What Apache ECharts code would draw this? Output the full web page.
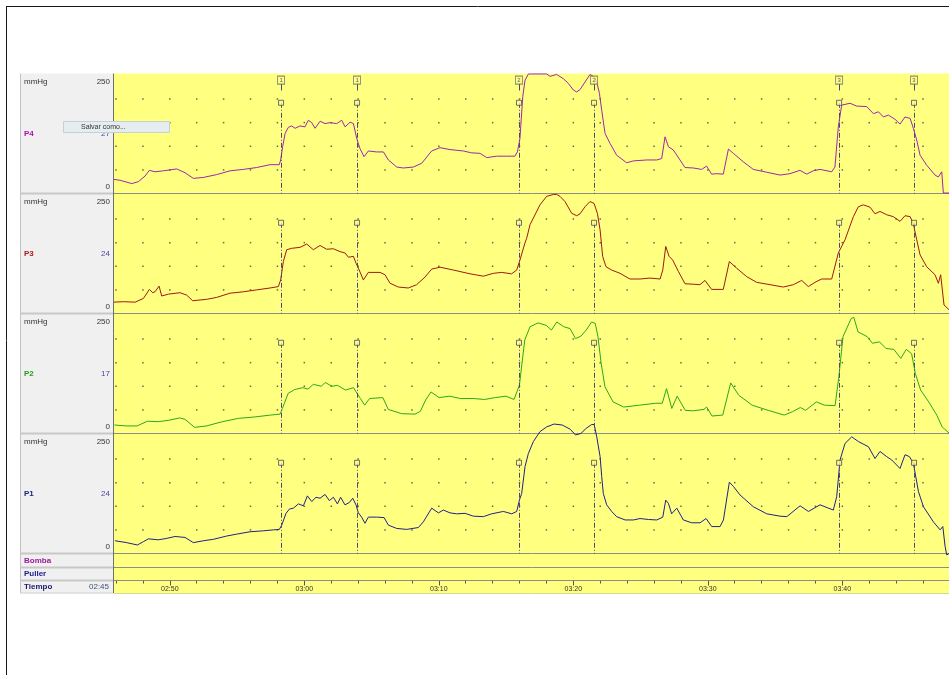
<!DOCTYPE html>
<html><head><meta charset="utf-8">
<script src="https://cdn.jsdelivr.net/npm/echarts@6/dist/echarts.min.js"></script>
<style>html,body{margin:0;padding:0;background:#fff}#c{width:949px;height:675px}</style>
</head><body><div id="c"></div>
<script>
// ---- data (time in minutes after 02:45, pressure in mmHg) ----
const channelNames = ['P4', 'P3', 'P2', 'P1'];
const channelValues = ['27', '24', '17', '24'];
const scaleTopLabel = '250';
const scaleBottomLabel = '0';
const unitLabel = 'mmHg';
const extraRows = ['Bomba', 'Puller', 'Tiempo'];
const startTimeLabel = '02:45';
const timeTickValues = [5, 15, 25, 35, 45, 55];
const timeTickLabels = ['02:50', '03:00', '03:10', '03:20', '03:30', '03:40'];
const minorTickValues = [1, 3, 5, 7, 9, 11, 13, 15, 17, 19, 21, 23, 25, 27, 29, 31, 33, 35, 37, 39, 41, 43, 45, 47, 49, 51, 53, 55, 57, 59, 61];
const levelValues = [50, 100, 150, 200];
const markerTimes = [13.27, 18.92, 30.96, 36.54, 54.76, 60.33];
const markerNames = ['1', '1', '2', '2', '3', '3'];
const menuText = 'Salvar como...';

const p4 = [[0.80,30],[1.30,28],[2.17,21],[2.66,25],[3.16,37],[3.48,49],[3.90,46],[4.52,48],[5.51,52],[6.13,44],[6.75,32],[7.50,34],[8.48,40],[9.48,48],[10.47,51],[11.46,55],[12.45,61],[13.14,61],[13.24,71],[13.39,99],[13.57,127],[13.81,140],[14.06,143],[14.31,138],[14.68,143],[15.05,141],[15.30,155],[15.55,150],[15.80,138],[16.17,153],[16.54,148],[16.91,150],[17.41,148],[17.78,155],[18.03,141],[18.40,151],[18.65,148],[18.90,116],[19.14,95],[19.44,78],[19.76,90],[20.38,88],[20.88,88],[21.25,71],[21.87,56],[22.36,54],[23.11,56],[23.73,64],[24.47,90],[25.09,97],[25.83,93],[26.82,90],[27.44,86],[28.06,85],[28.56,76],[29.30,79],[30.04,79],[30.66,79],[30.84,88],[31.03,116],[31.24,205],[31.41,240],[31.66,253],[33.02,253],[33.27,248],[33.76,252],[34.26,243],[34.63,233],[35.00,219],[35.25,215],[35.50,220],[35.87,236],[36.24,252],[36.54,247],[36.74,236],[36.94,212],[37.11,176],[37.36,127],[37.73,106],[38.22,81],[38.97,65],[39.46,69],[40.46,71],[41.20,71],[41.57,74],[41.82,120],[42.07,99],[42.44,92],[42.93,71],[43.30,55],[43.92,54],[44.54,51],[44.91,58],[45.28,41],[45.66,42],[46.15,41],[46.53,94],[46.90,85],[47.64,67],[48.38,51],[49.38,45],[50.37,39],[51.11,42],[51.85,49],[52.35,41],[52.84,48],[53.34,51],[54.21,46],[54.45,56],[54.70,141],[54.95,187],[55.57,191],[56.07,185],[56.81,184],[57.31,169],[57.68,173],[58.05,162],[58.42,166],[58.92,157],[59.29,147],[59.66,162],[60.04,159],[60.28,138],[60.53,113],[60.78,81],[61.27,60],[61.89,39],[62.14,35],[62.39,46],[62.51,1],[62.93,1]];

const p3 = [[0.80,24],[1.55,25],[2.42,24],[3.04,32],[3.48,51],[3.73,44],[3.90,46],[4.20,58],[4.40,37],[4.89,41],[5.76,44],[6.25,39],[6.70,27],[7.74,30],[8.48,34],[9.48,43],[10.47,46],[11.46,50],[12.45,54],[13.07,57],[13.24,71],[13.44,110],[13.69,135],[14.06,138],[14.68,140],[15.18,147],[15.67,135],[16.17,144],[16.66,136],[17.16,137],[17.66,131],[18.03,128],[18.28,119],[18.65,121],[18.85,106],[19.02,96],[19.39,71],[19.76,87],[20.63,87],[21.00,82],[21.37,64],[21.99,56],[22.73,54],[23.35,61],[23.97,77],[24.47,94],[25.09,98],[26.08,92],[27.32,84],[28.31,79],[29.05,85],[29.67,87],[30.41,84],[30.79,92],[31.03,113],[31.40,149],[31.53,159],[31.78,188],[32.03,202],[32.52,230],[33.02,248],[33.52,252],[33.76,252],[34.01,248],[34.38,237],[34.88,212],[35.25,207],[35.50,211],[35.87,226],[36.24,237],[36.54,233],[36.79,212],[36.99,177],[37.18,121],[37.43,99],[37.85,92],[38.47,85],[39.21,73],[39.96,73],[40.70,75],[41.45,73],[41.65,92],[41.87,142],[42.12,121],[42.39,113],[42.81,89],[43.30,63],[43.92,62],[44.41,61],[44.79,70],[45.28,51],[46.15,51],[46.60,110],[47.14,96],[47.89,78],[48.63,66],[49.62,61],[50.61,56],[51.36,61],[51.98,70],[52.47,57],[52.97,66],[53.46,73],[54.21,73],[54.70,128],[55.20,156],[55.82,205],[56.19,226],[56.56,230],[57.06,225],[57.43,211],[57.80,216],[58.30,209],[58.79,205],[59.29,195],[59.66,207],[60.04,205],[60.28,190],[60.53,156],[60.78,124],[61.27,99],[61.89,82],[62.14,64],[62.31,82],[62.56,18],[62.93,8]];

const p2 = [[0.88,18],[1.76,16],[2.56,16],[3.34,26],[4.14,25],[4.93,28],[5.73,33],[6.13,30],[6.84,13],[7.72,16],[8.91,25],[10.10,32],[11.30,35],[12.49,39],[13.20,41],[13.37,53],[13.80,85],[14.28,93],[14.88,97],[15.27,94],[15.67,104],[16.27,100],[16.55,108],[17.06,100],[17.46,102],[18.06,92],[18.66,97],[18.85,88],[19.17,74],[19.49,60],[19.85,74],[20.84,76],[21.24,51],[22.23,42],[23.23,41],[23.63,47],[24.02,71],[24.42,88],[25.02,76],[25.81,79],[26.61,74],[27.60,74],[28.40,72],[29.19,76],[29.99,79],[30.59,72],[30.99,102],[31.39,198],[31.78,226],[32.38,234],[32.98,229],[33.37,219],[33.77,236],[34.29,226],[34.76,222],[35.16,201],[35.56,206],[35.96,219],[36.36,236],[36.63,233],[36.83,205],[37.07,148],[37.35,99],[37.95,67],[38.74,56],[39.94,60],[41.13,64],[41.61,64],[41.93,95],[42.32,53],[42.72,79],[43.32,49],[43.92,48],[44.71,51],[44.91,56],[45.31,37],[46.11,39],[46.70,107],[47.30,81],[48.29,60],[49.49,49],[50.68,39],[51.28,46],[51.87,55],[52.27,49],[53.07,67],[53.66,60],[54.46,59],[54.74,120],[55.05,205],[55.65,243],[55.85,246],[56.17,215],[56.85,205],[57.24,191],[57.76,194],[58.24,180],[58.83,178],[59.35,159],[59.75,178],[60.15,169],[60.43,127],[60.82,92],[61.42,67],[62.02,39],[62.42,14],[62.93,1]];

const p1 = [[0.93,27],[1.79,23],[2.59,18],[3.03,25],[3.41,31],[4.15,29],[4.77,32],[5.39,36],[6.13,34],[6.75,23],[7.50,27],[8.24,30],[9.23,37],[9.97,41],[10.96,46],[11.95,48],[12.70,50],[13.14,51],[13.32,60],[13.64,85],[13.89,94],[14.19,96],[14.56,105],[14.93,101],[15.23,122],[15.55,110],[15.87,119],[16.17,117],[16.54,125],[16.86,112],[17.16,119],[17.46,105],[17.70,119],[18.02,103],[18.35,108],[18.60,117],[18.84,103],[19.02,86],[19.26,77],[19.51,64],[19.76,77],[20.38,77],[20.93,76],[21.25,60],[21.87,53],[22.61,51],[23.48,55],[23.85,67],[24.47,96],[24.97,86],[25.34,92],[25.83,86],[26.33,84],[26.95,85],[27.57,79],[28.31,78],[28.93,84],[29.80,89],[30.42,84],[30.79,89],[30.99,113],[31.16,127],[31.41,184],[31.66,212],[32.03,237],[32.52,258],[33.02,268],[33.57,274],[34.17,272],[34.77,263],[35.16,251],[35.56,254],[35.96,265],[36.36,273],[36.55,273],[36.74,247],[36.99,205],[37.11,163],[37.23,127],[37.48,103],[37.85,89],[38.22,78],[38.85,71],[39.46,71],[39.96,74],[40.58,72],[41.20,71],[41.65,77],[41.87,113],[42.07,106],[42.31,84],[42.69,96],[43.18,71],[43.80,65],[44.42,65],[44.87,74],[45.29,57],[45.91,57],[46.16,71],[46.60,151],[46.90,142],[47.39,124],[48.38,99],[49.38,84],[50.37,79],[50.87,78],[51.86,101],[52.48,89],[53.34,103],[54.33,92],[54.58,120],[54.83,198],[55.20,233],[55.70,247],[56.19,237],[56.94,226],[57.43,201],[57.80,216],[58.30,205],[58.67,198],[59.29,180],[59.66,209],[59.99,205],[60.28,191],[60.66,131],[61.03,99],[61.77,67],[62.27,50],[62.47,57],[62.64,15],[62.76,-3],[62.93,0]];

// ---- layout / style ----
const traces = [p4, p3, p2, p1];
const lineColors = ['#a024b0', '#a01818', '#2aa81e', '#20208c'];
const nameColors = ['#b010b0', '#b01818', '#20a020', '#202080'];
const extraColors = ['#9a1a9a', '#1a1a8a', '#1a1a6a'];
const X_MIN = 0.85, X_MAX = 62.93, Y_MAX = 254;
const PL = 114, TOP0 = 73.5, PH = 120;
const YELLOW = '#ffff80';
const MK = '#4a4a6e';
const FONT = '"Liberation Sans", Arial, sans-serif';

const grids = [], xAxes = [], yAxes = [], series = [];
for (let i = 0; i < 4; i++) {
  grids.push({left: PL, right: 0, top: TOP0 + PH * i, height: PH, show: true, backgroundColor: YELLOW, borderWidth: 0});
  xAxes.push({type: 'value', gridIndex: i, min: X_MIN, max: X_MAX, show: false});
  yAxes.push({type: 'value', gridIndex: i, min: 0, max: Y_MAX, show: false});
  const dots = [];
  minorTickValues.forEach(t => levelValues.forEach(v => dots.push([t, v])));
  series.push({type: 'scatter', xAxisIndex: i, yAxisIndex: i, data: dots, symbol: 'rect', symbolSize: 1.5,
    itemStyle: {color: '#444'}, silent: true, z: 1});
  const mlData = markerTimes.map(t => [{coord: [t, 192]}, {coord: [t, 0]}]);
  if (i === 0) markerTimes.forEach(t => mlData.push([{coord: [t, 233], lineStyle: {type: 'solid'}}, {coord: [t, 218]}]));
  series.push({type: 'line', xAxisIndex: i, yAxisIndex: i, data: traces[i], symbol: 'none', showSymbol: false,
    lineStyle: {color: lineColors[i], width: 1}, clip: i !== 3, silent: true, z: 3,
    markLine: {silent: true, symbol: ['none', 'none'], animation: false, label: {show: false},
      lineStyle: {color: MK, type: [5, 2, 1, 2], width: 1}, emphasis: {disabled: true}, data: mlData}});
  series.push({type: 'scatter', xAxisIndex: i, yAxisIndex: i, data: markerTimes.map(t => [t, 192]),
    symbol: 'rect', symbolSize: 5, itemStyle: {color: YELLOW, borderColor: MK, borderWidth: 1}, silent: true, z: 5});
}
// marker number boxes on top channel
series.push({type: 'scatter', xAxisIndex: 0, yAxisIndex: 0, data: markerTimes.map(t => [t, 240]),
  symbol: 'rect', symbolSize: [7, 8], itemStyle: {color: YELLOW, borderColor: '#707080', borderWidth: 1}, silent: true, z: 6,
  label: {show: true, position: 'inside', formatter: p => markerNames[p.dataIndex], fontSize: 6, color: '#333', fontFamily: FONT}});

// time axis grids
grids.push({left: PL, right: 0, top: 580.5, height: 12.5, show: true, backgroundColor: YELLOW, borderWidth: 0});
grids.push({left: PL, right: 0, top: 580.5, height: 12.5});
xAxes.push({type: 'value', gridIndex: 4, min: X_MIN, max: X_MAX, position: 'top',
  axisLine: {show: true, onZero: false, lineStyle: {color: '#8c8c8c'}},
  axisTick: {show: true, inside: true, length: 3, customValues: minorTickValues, lineStyle: {color: '#555'}},
  axisLabel: {show: false}, splitLine: {show: false}});
xAxes.push({type: 'value', gridIndex: 5, min: X_MIN, max: X_MAX, position: 'top',
  axisLine: {show: false, onZero: false},
  axisTick: {show: true, inside: true, length: 5, customValues: timeTickValues, lineStyle: {color: '#555'}},
  axisLabel: {show: true, inside: true, margin: 5, customValues: timeTickValues, fontSize: 7, color: '#333', fontFamily: FONT,
    formatter: v => timeTickLabels[timeTickValues.indexOf(v)]},
  splitLine: {show: false}});
yAxes.push({type: 'value', gridIndex: 4, min: 0, max: 1, show: false});
yAxes.push({type: 'value', gridIndex: 5, min: 0, max: 1, show: false});
series.push({type: 'line', xAxisIndex: 4, yAxisIndex: 4, data: [], silent: true});
series.push({type: 'line', xAxisIndex: 5, yAxisIndex: 5, data: [], silent: true});

// ---- decorations (frame, label panel, separators, texts) ----
const g = [];
const line = (x1, y1, x2, y2, stroke, w, z) => g.push({type: 'line', silent: true, z: z || 10,
  shape: {x1, y1, x2, y2}, style: {stroke, lineWidth: w || 1}});
const text = (t, x, y, fill, font, align) => g.push({type: 'text', silent: true, z: 12,
  style: {text: t, x, y, fill, font, textAlign: align || 'left', textVerticalAlign: 'middle'}});

g.push({type: 'rect', silent: true, z: 0, shape: {x: 20, y: 73.5, width: 94, height: 520}, style: {fill: '#f0f0f0'}});
g.push({type: 'rect', silent: true, z: 0, shape: {x: PL, y: 553.5, width: 949 - PL, height: 27}, style: {fill: YELLOW}});
line(6.5, 6, 6.5, 675, '#1a1a1a', 1);
line(6, 6.5, 949, 6.5, '#1a1a1a', 1);
line(20.5, 73.5, 20.5, 593, '#c4c4c4', 1);
const seps = [193.5, 313.5, 433.5, 553.5, 567.5, 580.5];
seps.forEach(y => { line(20, y, 113, y, '#c8c8c8', 2); line(PL, y, 949, y, '#8c8c8c', 1, 1); });
line(20, 593, 113, 593, '#d0d0d0', 1);
line(PL, 593.5, 949, 593.5, '#d8d890', 1);
line(113.5, 73.5, 113.5, 593, '#707070', 1);

const f8 = '8px ' + FONT, b8 = 'bold 8px ' + FONT;
for (let i = 0; i < 4; i++) {
  const T = TOP0 + PH * i;
  text(unitLabel, 24, T + 8, '#333', f8);
  text(scaleTopLabel, 110, T + 8, '#333', f8, 'right');
  text(channelNames[i], 24, T + 60, nameColors[i], b8);
  text(channelValues[i], 110, T + 60, '#4848a0', f8, 'right');
  text(scaleBottomLabel, 110, T + 113, '#333', f8, 'right');
}
text(extraRows[0], 24, 561, extraColors[0], b8);
text(extraRows[1], 24, 574, extraColors[1], b8);
text(extraRows[2], 24, 587, extraColors[2], b8);
text(startTimeLabel, 109, 587, '#405078', f8, 'right');

// context menu popup
g.push({type: 'rect', silent: true, z: 20, shape: {x: 63.5, y: 121.5, width: 106, height: 11},
  style: {fill: '#e6edf1', stroke: '#c2d0d8', lineWidth: 1}});
g.push({type: 'text', silent: true, z: 21, style: {text: menuText, x: 81, y: 127, fill: '#333',
  font: '7px ' + FONT, textAlign: 'left', textVerticalAlign: 'middle'}});

const chart = echarts.init(document.getElementById('c'), null, {renderer: 'canvas'});
chart.setOption({
  animation: false,
  backgroundColor: '#ffffff',
  grid: grids, xAxis: xAxes, yAxis: yAxes, series: series,
  graphic: {elements: g}
});
</script></body></html>
